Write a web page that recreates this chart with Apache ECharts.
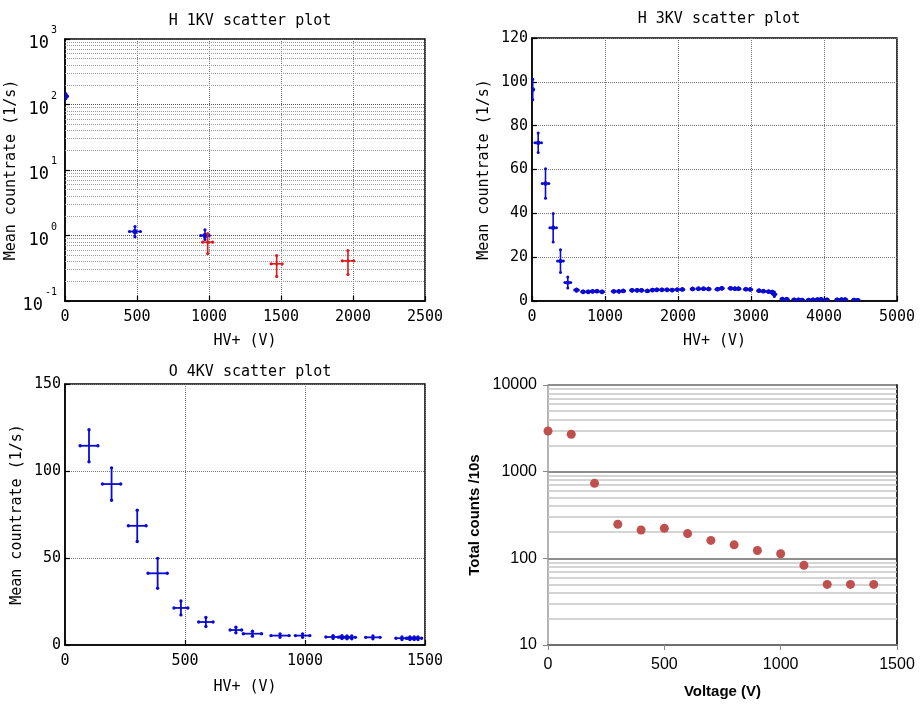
<!DOCTYPE html>
<html><head><meta charset="utf-8">
<script src="https://cdn.jsdelivr.net/npm/echarts@6/dist/echarts.min.js"></script>
<style>html,body{margin:0;padding:0;background:#fff}#c{width:920px;height:705px}</style>
</head><body><div id="c"></div>
<script>
// ---------- Plot 1: H 1KV (log y) ----------
var h1BlueX    = [5, 486, 972];
var h1BlueY    = [134, 1.15, 1.0];
var h1BlueXErr = [12, 38, 30];
var h1BlueYLo  = [122, 0.96, 0.87];
var h1BlueYHi  = [147, 1.37, 1.22];
var h1RedX     = [991, 1470, 1965];
var h1RedY     = [0.79, 0.37, 0.41];
var h1RedXErr  = [35, 38, 40];
var h1RedYLo   = [0.53, 0.237, 0.254];
var h1RedYHi   = [1.07, 0.495, 0.59];
var h1Decades  = [0.1, 1, 10, 100];

// ---------- Plot 2: H 3KV ----------
var h3X = [10, 85, 185, 290, 390, 490, 610, 700, 770, 830, 890, 960, 1120, 1190, 1250, 1370, 1440, 1500,
           1580, 1650, 1710, 1780, 1850, 1920, 1990, 2060, 2200, 2280, 2350, 2420, 2540, 2600, 2720, 2780,
           2830, 2930, 2990, 3110, 3170, 3240, 3290, 3320, 3430, 3490, 3590, 3650, 3700, 3790, 3850, 3910,
           3960, 4040, 4180, 4240, 4290, 4410, 4460];
var h3Y = [96.5, 72.2, 53.6, 33.4, 18.2, 8.4, 5.0, 4.2, 4.2, 4.4, 4.5, 4.2, 4.4, 4.4, 4.6, 4.9, 4.9, 4.9,
           4.6, 5.0, 5.1, 5.1, 5.1, 5.0, 5.2, 5.3, 5.5, 5.6, 5.6, 5.5, 5.4, 5.8, 5.8, 5.6,
           5.6, 5.4, 5.3, 4.7, 4.5, 4.3, 4.0, 3.1, 0.9, 0.8, 0.6, 0.6, 0.5, 0.5, 0.6, 0.7,
           0.8, 0.6, 0.6, 0.7, 0.7, 0.5, 0.4];
var h3YErr = [4.7, 4.5, 6.7, 6.5, 5.2, 2.5, 0.5, 0.4, 0.4, 0.4, 0.4, 0.4, 0.4, 0.4, 0.4, 0.4, 0.4, 0.4,
              0.4, 0.4, 0.4, 0.4, 0.4, 0.4, 0.4, 0.4, 0.4, 0.4, 0.4, 0.4, 0.4, 0.4, 0.4, 0.4,
              0.4, 0.4, 0.4, 0.4, 0.4, 0.4, 0.6, 1.0, 0.4, 0.4, 0.3, 0.3, 0.3, 0.3, 0.3, 0.3,
              0.3, 0.3, 0.3, 0.3, 0.3, 0.3, 0.3];
var h3XErr = [12, 45, 45, 45, 40, 40, 25, 20, 20, 20, 20, 20, 20, 20, 20, 20, 20, 20,
              20, 20, 20, 20, 20, 20, 20, 20, 20, 20, 20, 20, 20, 20, 20, 20,
              20, 20, 20, 20, 20, 20, 20, 20, 20, 20, 20, 20, 20, 20, 20, 20,
              20, 20, 20, 20, 20, 20, 20];

// ---------- Plot 3: O 4KV ----------
var o4X    = [100, 194, 301, 386, 483, 587, 712, 781, 896, 990, 1117, 1154, 1175, 1195, 1283, 1404, 1437, 1455, 1471];
var o4Y    = [114.5, 92.5, 68.5, 41.2, 21.3, 13.2, 8.6, 6.5, 5.4, 5.4, 4.6, 4.5, 4.4, 4.4, 4.4, 3.9, 3.9, 3.9, 3.9];
var o4YErr = [9.2, 9.3, 9.0, 8.6, 4.0, 2.6, 1.6, 1.4, 1.0, 1.0, 0.8, 0.8, 0.8, 0.8, 0.8, 0.7, 0.7, 0.7, 0.7];
var o4XErr = [37, 38, 37, 40, 29, 30, 24, 38, 38, 30, 30, 15, 15, 15, 30, 25, 15, 10, 15];

// ---------- Plot 4: Total counts ----------
var tcVoltage = [0, 100, 200, 300, 400, 500, 600, 700, 800, 900, 1000, 1100, 1200, 1300, 1400];
var tcCounts  = [2950, 2700, 733, 247, 212, 222, 193, 161, 143, 123, 113, 83, 50, 50, 50];
var tcDecades = [10, 100, 1000];

var minorMult = [2, 3, 4, 5, 6, 7, 8, 9];

var MONO = '"DejaVu Sans Mono", monospace';
var SANS = '"Liberation Sans", Arial, sans-serif';
var BLUE = '#0a0ad2';
var RED = '#e01818';

function plain(v) { return String(Math.round(v * 1000) / 1000); }
function errData(xs, ys, xe, ylo, yhi) {
  return xs.map(function (x, i) { return [x, ys[i], x - xe[i], x + xe[i], ylo[i], yhi[i]]; });
}
function symData(xs, ys, xe, ye) {
  return xs.map(function (x, i) { return [x, ys[i], x - xe[i], x + xe[i], ys[i] - ye[i], ys[i] + ye[i]]; });
}
function makeRender(color, lw, capR, dotR) {
  return function (params, api) {
    var x = api.value(0), y = api.value(1);
    var c = api.coord([x, y]);
    var a = api.coord([api.value(2), y]), b = api.coord([api.value(3), y]);
    var d = api.coord([x, api.value(4)]), e = api.coord([x, api.value(5)]);
    var st = { stroke: color, lineWidth: lw };
    var ch = [
      { type: 'line', shape: { x1: a[0], y1: a[1], x2: b[0], y2: b[1] }, style: st },
      { type: 'line', shape: { x1: d[0], y1: d[1], x2: e[0], y2: e[1] }, style: st }
    ];
    [a, b, d, e].forEach(function (p) {
      ch.push({ type: 'circle', shape: { cx: p[0], cy: p[1], r: capR }, style: { fill: color } });
    });
    if (dotR) ch.push({ type: 'circle', shape: { cx: c[0], cy: c[1], r: dotR }, style: { fill: color } });
    return { type: 'group', children: ch };
  };
}
function minorLines(decades) {
  var out = [];
  decades.forEach(function (d) { minorMult.forEach(function (m) { out.push({ yAxis: d * m }); }); });
  return out;
}
function supLabel(v) {
  var e = Math.round(Math.log10(v));
  return '{b|10}{g|}{e|' + e + '}';
}

var labelMono = { fontFamily: MONO, fontSize: 15, color: '#000', formatter: plain };
var nameMono = { fontFamily: MONO, fontSize: 15, color: '#000' };
function matX(gi, min, max, interval, gap) {
  return {
    gridIndex: gi, type: 'value', min: min, max: max, interval: interval,
    axisLine: { show: true, lineStyle: { color: '#000', width: 1.5 } },
    axisTick: { show: true, inside: true, length: 5, lineStyle: { color: '#000', width: 1.2 } },
    axisLabel: Object.assign({ margin: 9 }, labelMono),
    splitLine: { show: true, lineStyle: { type: 'dotted', color: '#777', width: 1 } },
    name: 'HV+ (V)', nameLocation: 'middle', nameGap: gap, nameTextStyle: nameMono
  };
}
function matY(gi, min, max, interval) {
  return {
    gridIndex: gi, type: 'value', min: min, max: max, interval: interval,
    axisLine: { show: true, lineStyle: { color: '#000', width: 1.5 } },
    axisTick: { show: true, inside: true, length: 5, lineStyle: { color: '#000', width: 1.2 } },
    axisLabel: Object.assign({ margin: 4 }, labelMono),
    splitLine: { show: true, lineStyle: { type: 'dotted', color: '#777', width: 1 } },
    name: 'Mean countrate (1/s)', nameLocation: 'middle', nameGap: 40, nameTextStyle: nameMono
  };
}

var y0 = matY(0, 0.1, 1000, null);
y0.type = 'log'; y0.logBase = 10; delete y0.interval;
y0.nameGap = 42;
y0.axisLabel = {
  margin: 8, formatter: supLabel,
  rich: {
    b: { fontFamily: MONO, fontSize: 17, color: '#000', verticalAlign: 'bottom', lineHeight: 27 },
    g: { width: 2 },
    e: { fontFamily: MONO, fontSize: 10, color: '#000', verticalAlign: 'top', lineHeight: 27 }
  }
};
y0.splitLine.lineStyle.color = '#555';

var chart = echarts.init(document.getElementById('c'), null, { renderer: 'canvas' });
chart.setOption({
  animation: false,
  backgroundColor: '#fff',
  title: [
    { text: 'H 1KV scatter plot', left: 245, top: 9, textAlign: 'center', textStyle: { fontFamily: MONO, fontSize: 15, fontWeight: 'normal', color: '#000' } },
    { text: 'H 3KV scatter plot', left: 714, top: 7, textAlign: 'center', textStyle: { fontFamily: MONO, fontSize: 15, fontWeight: 'normal', color: '#000' } },
    { text: 'O 4KV scatter plot', left: 245, top: 360, textAlign: 'center', textStyle: { fontFamily: MONO, fontSize: 15, fontWeight: 'normal', color: '#000' } }
  ],
  grid: [
    { left: 65, top: 39, width: 360, height: 262, show: true, borderColor: '#000', borderWidth: 1.5, backgroundColor: '#fff' },
    { left: 532, top: 38, width: 365, height: 263, show: true, borderColor: '#000', borderWidth: 1.5, backgroundColor: '#fff' },
    { left: 65, top: 384, width: 360, height: 261, show: true, borderColor: '#000', borderWidth: 1.5, backgroundColor: '#fff' },
    { left: 548, top: 385, width: 349, height: 260, show: false }
  ],
  xAxis: [
    matX(0, 0, 2500, 500, 33),
    matX(1, 0, 5000, 1000, 33),
    matX(2, 0, 1500, 500, 35),
    {
      gridIndex: 3, type: 'value', min: 0, max: 1500, interval: 500,
      axisLine: { show: true, lineStyle: { color: '#6e6e6e', width: 2 } },
      axisTick: { show: true, inside: false, length: 5, lineStyle: { color: '#888', width: 1 } },
      axisLabel: { margin: 12, fontFamily: SANS, fontSize: 16, color: '#000', formatter: plain },
      splitLine: { show: false },
      name: 'Voltage (V)', nameLocation: 'middle', nameGap: 39,
      nameTextStyle: { fontFamily: SANS, fontSize: 15, fontWeight: 'bold', color: '#000' }
    }
  ],
  yAxis: [
    y0,
    matY(1, 0, 120, 20),
    matY(2, 0, 150, 50),
    {
      gridIndex: 3, type: 'log', logBase: 10, min: 10, max: 10000,
      axisLine: { show: true, lineStyle: { color: '#9a9a9a', width: 1.5 } },
      axisTick: { show: true, inside: false, length: 5, lineStyle: { color: '#888', width: 1 } },
      axisLabel: { margin: 11, fontFamily: SANS, fontSize: 16, color: '#000', formatter: plain },
      splitLine: { show: true, lineStyle: { color: '#8e8e8e', width: 1.8 } },
      name: 'Total counts /10s', nameLocation: 'middle', nameGap: 66,
      nameTextStyle: { fontFamily: SANS, fontSize: 15, fontWeight: 'bold', color: '#000' }
    },
    {
      gridIndex: 3, type: 'log', logBase: 10, min: 10, max: 10000, position: 'right',
      axisLine: { show: true, lineStyle: { color: '#333', width: 2 } },
      axisTick: { show: false }, axisLabel: { show: false }, splitLine: { show: false }
    }
  ],
  series: [
    {
      type: 'line', xAxisIndex: 0, yAxisIndex: 0, data: [], silent: true, z: 1,
      markLine: { silent: true, symbol: ['none', 'none'], animation: false, label: { show: false },
        lineStyle: { type: 'dotted', color: '#9a9a9a', width: 1 }, data: minorLines(h1Decades) }
    },
    {
      type: 'custom', xAxisIndex: 0, yAxisIndex: 0, clip: true, z: 5,
      renderItem: makeRender(BLUE, 1.6, 1.6, 2.6),
      encode: { x: [0, 2, 3], y: [1, 4, 5] },
      data: errData(h1BlueX, h1BlueY, h1BlueXErr, h1BlueYLo, h1BlueYHi)
    },
    {
      type: 'custom', xAxisIndex: 0, yAxisIndex: 0, clip: true, z: 6,
      renderItem: makeRender(RED, 1.6, 1.6, 1.6),
      encode: { x: [0, 2, 3], y: [1, 4, 5] },
      data: errData(h1RedX, h1RedY, h1RedXErr, h1RedYLo, h1RedYHi)
    },
    {
      type: 'custom', xAxisIndex: 1, yAxisIndex: 1, clip: true, z: 5,
      renderItem: makeRender(BLUE, 1.6, 1.5, 2.2),
      encode: { x: [0, 2, 3], y: [1, 4, 5] },
      data: symData(h3X, h3Y, h3XErr, h3YErr)
    },
    {
      type: 'custom', xAxisIndex: 2, yAxisIndex: 2, clip: true, z: 5,
      renderItem: makeRender(BLUE, 1.8, 1.7, 0),
      encode: { x: [0, 2, 3], y: [1, 4, 5] },
      data: symData(o4X, o4Y, o4XErr, o4YErr)
    },
    {
      type: 'line', xAxisIndex: 3, yAxisIndex: 3, data: [], silent: true, z: 1,
      markLine: { silent: true, symbol: ['none', 'none'], animation: false, label: { show: false }, z: 1,
        lineStyle: { type: 'solid', color: '#c6c6c6', width: 1.6 }, data: minorLines(tcDecades) }
    },
    {
      type: 'scatter', xAxisIndex: 3, yAxisIndex: 3, symbol: 'circle', symbolSize: 9, z: 10,
      itemStyle: { color: '#c0504d', opacity: 1 },
      data: tcVoltage.map(function (v, i) { return [v, tcCounts[i]]; })
    }
  ]
});
</script></body></html>
